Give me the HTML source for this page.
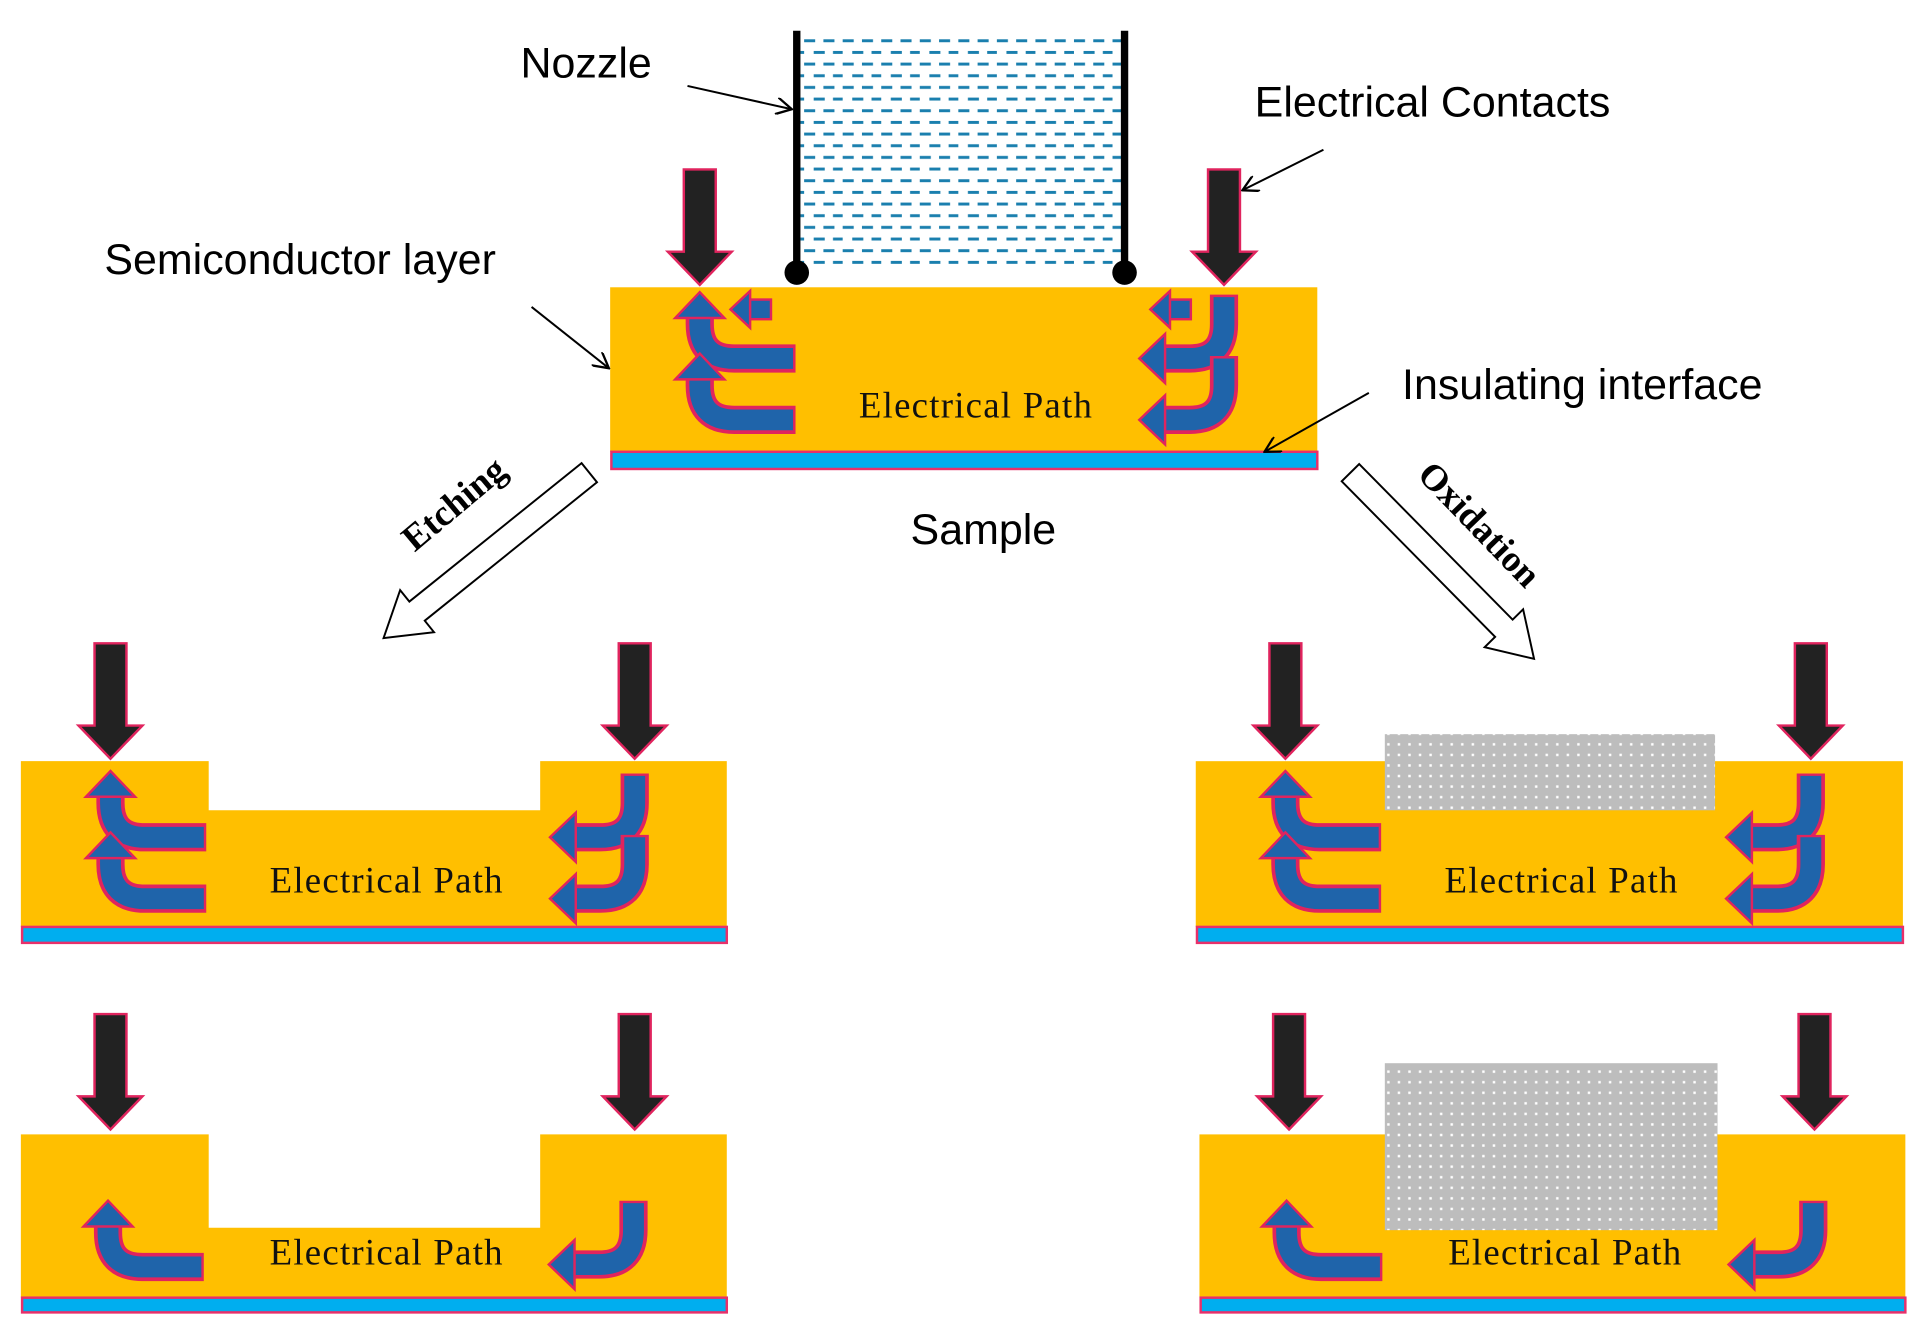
<!DOCTYPE html>
<html><head><meta charset="utf-8"><style>
html,body{margin:0;padding:0;background:#fff;width:1925px;height:1335px;overflow:hidden}
svg{display:block}
.lbl{font-family:"Liberation Sans",sans-serif;font-size:35px;fill:#000}
.ep{font-family:"Liberation Serif",serif;font-size:30px;fill:#111;letter-spacing:1px}
.rot{font-family:"Liberation Serif",serif;font-size:30px;font-weight:bold;fill:#000}
</style></head><body>
<svg width="1925" height="1335" viewBox="0 0 1568 1087.4" preserveAspectRatio="none" xmlns="http://www.w3.org/2000/svg">
<defs>
<pattern id="dots" width="8.6" height="8.6" patternUnits="userSpaceOnUse">
<rect width="8.6" height="8.6" fill="#bdbdbd"/><rect x="3.3" y="3.3" width="2" height="2" fill="#fff"/>
</pattern>
<pattern id="dash" width="31.4" height="19" patternUnits="userSpaceOnUse" x="655" y="29">
<rect x="0" y="3" width="9" height="2.4" fill="#1a7fae"/><rect x="15.7" y="3" width="9" height="2.4" fill="#1a7fae"/>
<rect x="7.8" y="12.5" width="9" height="2.4" fill="#1a7fae"/><rect x="23.5" y="12.5" width="9" height="2.4" fill="#1a7fae"/>
</pattern>
<marker id="open" viewBox="0 0 12 12" refX="11" refY="6" markerWidth="14" markerHeight="14" markerUnits="userSpaceOnUse" orient="auto">
<path d="M0,0 L11,6 L0,12" fill="none" stroke="#000" stroke-width="1.6"/>
</marker>
<g id="contact">
<polygon points="-13,-94 13,-94 13,-27 26,-27 0,0 -26,-27 -13,-27" fill="#222" stroke="#e0245e" stroke-width="2"/>
</g>
<g id="L">
<path d="M0,16 L0,24 Q0,52 28,52 L78,52" fill="none" stroke="#e0245e" stroke-width="23"/>
<path d="M0,16 L0,24 Q0,52 28,52 L76,52" fill="none" stroke="#1f64aa" stroke-width="17"/>
<polygon points="0,-2 20,19 -20,19" fill="#1f64aa" stroke="#e0245e" stroke-width="2"/>
</g>
<g id="J">
<path d="M67,-52 L67,-28 Q67,0 39,0 L16,0" fill="none" stroke="#e0245e" stroke-width="23"/>
<path d="M67,-50 L67,-28 Q67,0 39,0 L16,0" fill="none" stroke="#1f64aa" stroke-width="17"/>
<polygon points="-2,0 19,-20 19,20" fill="#1f64aa" stroke="#e0245e" stroke-width="2"/>
</g>
<g id="small">
<rect x="12" y="-8" width="21" height="16" fill="#1f64aa" stroke="#e0245e" stroke-width="2"/>
<polygon points="0,0 16,-15 16,15" fill="#1f64aa" stroke="#e0245e" stroke-width="2"/>
</g>
</defs>

<rect x="652" y="29" width="262" height="192" fill="url(#dash)"/>
<line x1="649" y1="25" x2="649" y2="222" stroke="#000" stroke-width="6"/>
<line x1="916" y1="25" x2="916" y2="222" stroke="#000" stroke-width="6"/>
<circle cx="649" cy="222" r="10" fill="#000"/><circle cx="916" cy="222" r="10" fill="#000"/>

<rect x="497" y="234" width="576" height="134" fill="#ffbf00"/>
<rect x="498" y="368" width="575" height="14" fill="#00aeef" stroke="#e8306a" stroke-width="2"/>
<use href="#contact" x="570" y="232"/>
<use href="#contact" x="997" y="232"/>
<use href="#L" x="570" y="240"/>
<use href="#L" x="570" y="290"/>
<use href="#small" x="595" y="252"/>
<use href="#J" x="930" y="292"/>
<use href="#J" x="930" y="342"/>
<use href="#small" x="937" y="252"/>
<text class="ep" x="795" y="340" text-anchor="middle">Electrical Path</text>

<text class="lbl" x="424" y="63">Nozzle</text>
<line x1="560" y1="70" x2="645" y2="89" stroke="#000" stroke-width="1.6" marker-end="url(#open)"/>
<text class="lbl" x="1022" y="95">Electrical Contacts</text>
<line x1="1078" y1="122" x2="1012" y2="155" stroke="#000" stroke-width="1.6" marker-end="url(#open)"/>
<text class="lbl" x="85" y="223">Semiconductor layer</text>
<line x1="433" y1="250" x2="496" y2="300" stroke="#000" stroke-width="1.6" marker-end="url(#open)"/>
<text class="lbl" x="1142" y="325">Insulating interface</text>
<line x1="1115" y1="320" x2="1030" y2="368" stroke="#000" stroke-width="1.6" marker-end="url(#open)"/>
<text class="lbl" x="801" y="443" text-anchor="middle">Sample</text>

<polygon transform="translate(480,385) rotate(141.2)" points="0,-10 180,-10 180,-22 215,0 180,22 180,10 0,10" fill="#fff" stroke="#000" stroke-width="1.6"/>
<text class="rot" transform="translate(376,418) rotate(-40)" text-anchor="middle">Etching</text>
<polygon transform="translate(1100,385) rotate(45.4)" points="0,-10 178,-10 178,-22 213,0 178,22 178,10 0,10" fill="#fff" stroke="#000" stroke-width="1.6"/>
<text class="rot" transform="translate(1198,434) rotate(46)" text-anchor="middle">Oxidation</text>

<path d="M17,620 H170 V660 H440 V620 H592 V755 H17 Z" fill="#ffbf00"/>
<rect x="18" y="755" width="574" height="13" fill="#00aeef" stroke="#e8306a" stroke-width="2"/>
<use href="#contact" x="90" y="618"/>
<use href="#contact" x="517" y="618"/>
<use href="#L" x="90" y="630"/>
<use href="#L" x="90" y="680"/>
<use href="#J" x="450" y="682"/>
<use href="#J" x="450" y="732"/>
<text class="ep" x="315" y="727" text-anchor="middle">Electrical Path</text>

<path d="M17,924 H170 V1000 H440 V924 H592 V1057 H17 Z" fill="#ffbf00"/>
<rect x="18" y="1057" width="574" height="12" fill="#00aeef" stroke="#e8306a" stroke-width="2"/>
<use href="#contact" x="90" y="920"/>
<use href="#contact" x="517" y="920"/>
<use href="#L" x="88" y="980"/>
<use href="#J" x="449" y="1030"/>
<text class="ep" x="315" y="1030" text-anchor="middle">Electrical Path</text>

<rect x="974" y="620" width="576" height="135" fill="#ffbf00"/>
<rect x="1128" y="598" width="269" height="62" fill="url(#dots)"/>
<rect x="975" y="755" width="575" height="13" fill="#00aeef" stroke="#e8306a" stroke-width="2"/>
<use href="#contact" x="1047" y="618"/>
<use href="#contact" x="1475" y="618"/>
<use href="#L" x="1047" y="630"/>
<use href="#L" x="1047" y="680"/>
<use href="#J" x="1408" y="682"/>
<use href="#J" x="1408" y="732"/>
<text class="ep" x="1272" y="727" text-anchor="middle">Electrical Path</text>

<rect x="977" y="924" width="575" height="133" fill="#ffbf00"/>
<rect x="1128" y="866" width="271" height="136" fill="url(#dots)"/>
<rect x="978" y="1057" width="574" height="12" fill="#00aeef" stroke="#e8306a" stroke-width="2"/>
<use href="#contact" x="1050" y="920"/>
<use href="#contact" x="1478" y="920"/>
<use href="#L" x="1048" y="980"/>
<use href="#J" x="1410" y="1030"/>
<text class="ep" x="1275" y="1030" text-anchor="middle">Electrical Path</text>
</svg>
</body></html>
